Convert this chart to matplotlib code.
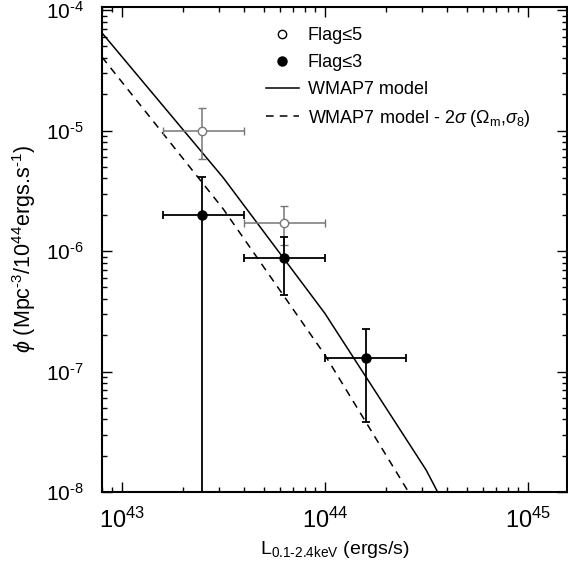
import numpy as np
import matplotlib
matplotlib.use('Agg')
import matplotlib.pyplot as plt
from matplotlib.lines import Line2D
from matplotlib.ticker import LogLocator, FuncFormatter

plt.rcParams['font.family'] = ['Liberation Sans', 'DejaVu Sans']
plt.rcParams['mathtext.fontset'] = 'custom'
plt.rcParams['mathtext.rm'] = 'Liberation Sans'
plt.rcParams['mathtext.it'] = 'Liberation Sans:italic'

# datos
# Flag<=5 (gris, circulo abierto)
x5 = [2.5e43, 6.3e43]
y5 = [1.0e-5, 1.7e-6]
x5_lo = [1.6e43, 4.0e43]
x5_hi = [4.0e43, 1.0e44]
y5_lo = [5.8e-6, 1.12e-6]
y5_hi = [1.54e-5, 2.35e-6]

# Flag<=3 (negro, circulo lleno)
x3 = [2.5e43, 6.3e43, 1.59e44]
y3 = [2.0e-6, 8.7e-7, 1.3e-7]
x3_lo = [1.6e43, 4.0e43, 1.0e44]
x3_hi = [4.0e43, 1.0e44, 2.5e44]
y3_lo = [1e-10, 4.3e-7, 3.8e-8]
y3_hi = [4.1e-6, 1.31e-6, 2.25e-7]

# modelos WMAP7
xm = [8.0e42, 3.16e43, 1.0e44, 3.16e44, 4.0e44]
ym = [6.46e-5, 4.07e-6, 3.05e-7, 1.52e-8, 7.1e-9]
xd = [8.0e42, 3.16e43, 1.0e44, 3.16e44]
yd = [4.07e-5, 2.24e-6, 1.38e-7, 5.75e-9]

gris = '#777777'

def errores(v, lo, hi):
	v = np.array(v); lo = np.array(lo); hi = np.array(hi)
	return [v - lo, hi - v]

#etiquetas de potencias con guion corto como en el original
def potencia(v, pos):
	e = int(round(np.log10(v)))
	return r'10$^{\text{%d}}$' % e

fig = plt.figure(figsize=(5.68, 5.79), dpi=100)
ax = fig.add_axes([102/568, 1 - 492/579, 465/568, 485/579])

ax.plot(xm, ym, '-k', lw=1.1)
ax.plot(xd, yd, '--k', lw=1.1, dashes=(5, 4))

ax.errorbar(x5, y5, xerr=errores(x5, x5_lo, x5_hi), yerr=errores(y5, y5_lo, y5_hi),
	fmt='o', mfc='white', mec=gris, color=gris, ms=6, mew=1, elinewidth=1.1, capsize=3, capthick=1.1)
ax.errorbar(x3, y3, xerr=errores(x3, x3_lo, x3_hi), yerr=errores(y3, y3_lo, y3_hi),
	fmt='o', color='black', ms=6.5, elinewidth=1.3, capsize=3, capthick=1.3)

ax.set_xscale('log')
ax.set_yscale('log')
ax.set_xlim(8.0e42, 1.56e45)
ax.set_ylim(1e-8, 1.06e-4)

ax.xaxis.set_major_locator(LogLocator(base=10))
ax.yaxis.set_major_locator(LogLocator(base=10))
ax.xaxis.set_major_formatter(FuncFormatter(potencia))
ax.yaxis.set_major_formatter(FuncFormatter(potencia))
ax.tick_params(which='both', direction='in', top=True, right=True, width=1)
ax.tick_params(which='major', length=7)
ax.tick_params(which='minor', length=3.5)
ax.tick_params(axis='y', labelsize=15, pad=13)
ax.tick_params(axis='x', labelsize=17, pad=11)
for s in ax.spines.values():
	s.set_linewidth(1.5)

ax.set_xlabel(r'L$_{\text{0.1-2.4keV}}$ (ergs/s)', fontsize=14, labelpad=5)
ax.set_ylabel(r'$\phi$ (Mpc$^{\text{-3}}$/10$^{44}$ergs.s$^{\text{-1}}$)', fontsize=15.5, labelpad=6)

handles = [
	Line2D([], [], ls='none', marker='o', mfc='white', mec='black', ms=6),
	Line2D([], [], ls='none', marker='o', color='black', ms=6.5),
	Line2D([], [], ls='-', color='black', lw=1.1),
	Line2D([], [], ls='--', color='black', lw=1.1, dashes=(5, 4)),
]
etiquetas = ['Flag≤5', 'Flag≤3', 'WMAP7 model',
	r'WMAP7 model - 2$\sigma$ ($\Omega_{\rm m}$,$\sigma_8$)']
fig.legend(handles, etiquetas, loc='upper left', bbox_to_anchor=(266/568, 1 - 27/579),
	frameon=False, fontsize=13, handlelength=1.8, handletextpad=0.5,
	labelspacing=0.55, borderpad=0, borderaxespad=0)

fig.savefig('out.png', dpi=100)
